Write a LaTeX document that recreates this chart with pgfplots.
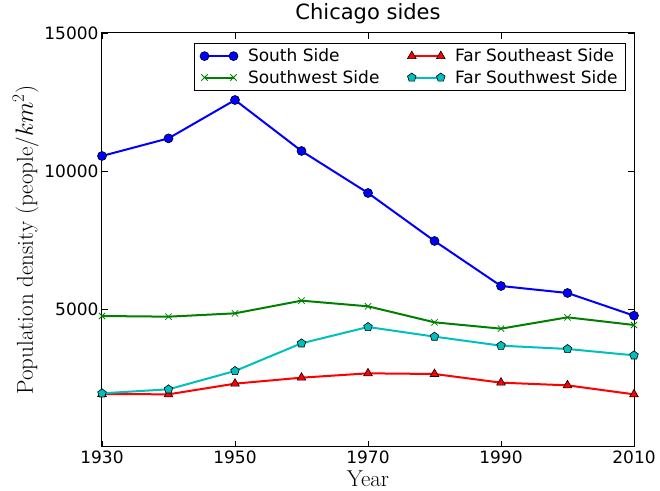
\documentclass[border=0pt]{standalone}
\usepackage{fontspec}
\usepackage{pgfplots}
\pgfplotsset{compat=1.18}
\newfontfamily\dejavu{DejaVu Sans}
\newcommand\labfont{\fontsize{23}{26}\selectfont}
\definecolor{mplgreen}{rgb}{0,0.5,0}
\definecolor{mplcyan}{rgb}{0,0.75,0.75}
\begin{document}
\begin{tikzpicture}
\begin{axis}[
  scale only axis,
  width=532pt, height=414pt,
  xmin=1930, xmax=2010, ymin=0, ymax=15000,
  xtick={1930,1950,1970,1990,2010},
  ytick={5000,10000,15000},
  scaled y ticks=false,
  /pgf/number format/assume math mode=true,
  xticklabel style={/pgf/number format/1000 sep={}},
  yticklabel style={/pgf/number format/1000 sep={}},
  tick label style={font=\dejavu\fontsize{17}{20}\selectfont},
  tick align=inside,
  major tick length=6pt,
  tick style={black, line width=0.8pt},
  axis line style={line width=1pt},
  title={Chicago sides},
  title style={font=\dejavu\fontsize{21}{24}\selectfont, at={(0.5,1)}, anchor=south, yshift=0pt},
  xlabel={\labfont Year},
  ylabel={\labfont Population density (people/$km^2$)},
  xlabel style={font=\labfont, at={(axis description cs:0.5,-0.0966)}, anchor=base},
  ylabel style={font=\labfont, at={(axis description cs:-0.1297,0.5)}, anchor=base},
  legend columns=2,
  legend style={at={(0.985,0.977)}, anchor=north east, font=\dejavu\fontsize{17}{20}\selectfont,
    draw=black, line width=0.8pt, inner xsep=6pt, inner ysep=4pt, row sep=3pt,
    /tikz/every odd column/.append style={column sep=8pt},
    /tikz/every even column/.append style={column sep=26pt}},
  legend cell align=left,
  legend image code/.code={\draw plot coordinates {(0pt,0pt) (29pt,0pt)};},
  every axis plot/.append style={line width=2pt},
]
\addplot[blue, mark=*, mark size=4.5pt, mark options={fill=blue, draw=black, line width=0.6pt}] coordinates {
(1930,10544) (1940,11183) (1950,12572) (1960,10725) (1970,9203) (1980,7464) (1990,5833) (2000,5580) (2010,4758)};
\addlegendentry{South Side}
\addplot[red, mark=triangle*, mark size=5pt, mark options={fill=red, draw=black, line width=0.6pt}] coordinates {
(1930,1920) (1940,1908) (1950,2295) (1960,2512) (1970,2669) (1980,2645) (1990,2331) (2000,2234) (2010,1908)};
\addlegendentry{Far Southeast Side}
\addplot[mplgreen, mark=x, mark size=4.5pt, mark options={line width=0.8pt}] coordinates {
(1930,4746) (1940,4722) (1950,4843) (1960,5302) (1970,5097) (1980,4517) (1990,4287) (2000,4698) (2010,4420)};
\addlegendentry{Southwest Side}
\addplot[mplcyan, mark=pentagon*, mark size=4.5pt, mark options={fill=mplcyan, draw=black, line width=0.6pt}] coordinates {
(1930,1945) (1940,2090) (1950,2754) (1960,3756) (1970,4348) (1980,3998) (1990,3671) (2000,3551) (2010,3321)};
\addlegendentry{Far Southwest Side}
\end{axis}
\pgfresetboundingbox
\path ([shift={(-102pt,-44pt)}]current axis.south west) rectangle ([shift={(26pt,33pt)}]current axis.north east);
\end{tikzpicture}
\end{document}
